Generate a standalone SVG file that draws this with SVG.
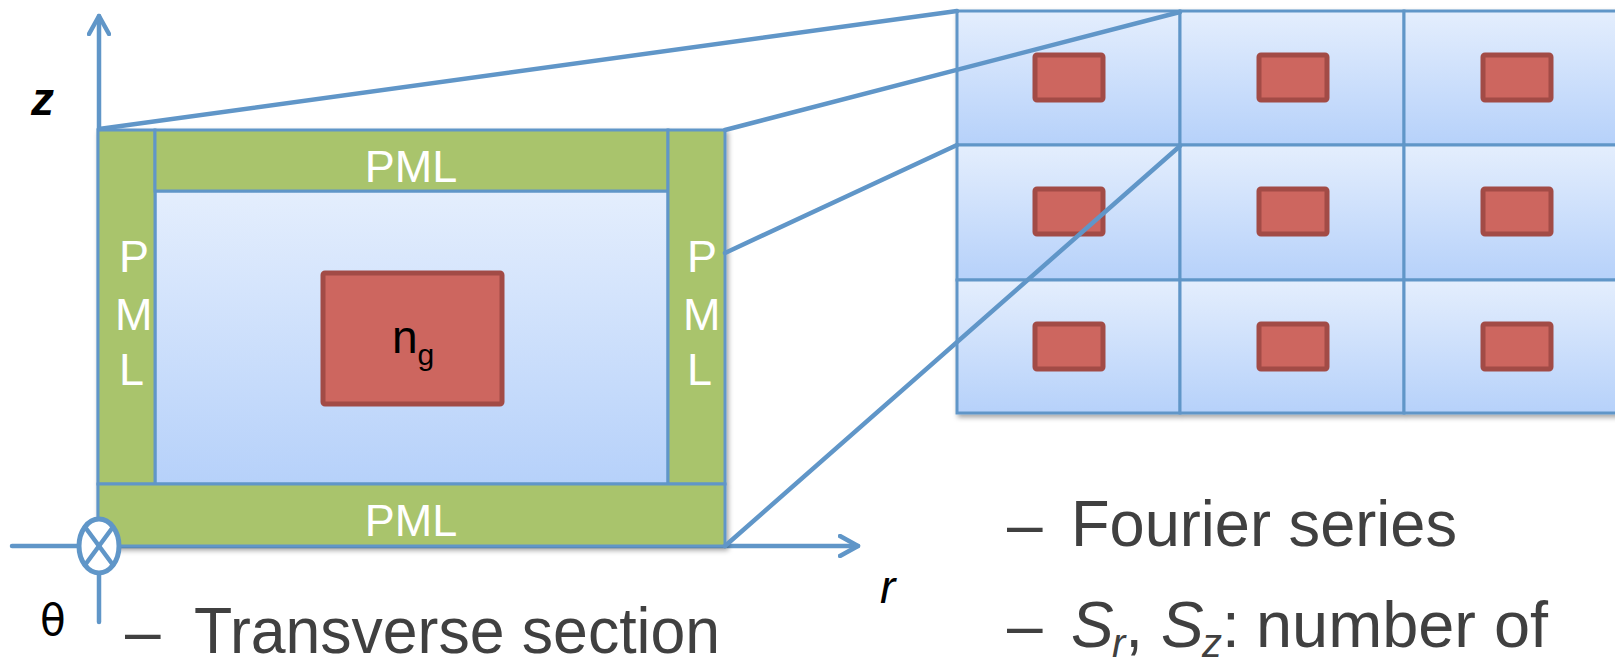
<svg xmlns="http://www.w3.org/2000/svg" width="1615" height="658" viewBox="0 0 1615 658">
<defs>
<linearGradient id="cellg" x1="0" y1="0" x2="0" y2="1">
<stop offset="0" stop-color="#e4eefd"/>
<stop offset="1" stop-color="#b6d1fa"/>
</linearGradient>
<filter id="sh" x="-5%" y="-5%" width="110%" height="115%">
<feDropShadow dx="2" dy="3" stdDeviation="2.5" flood-color="#000" flood-opacity="0.35"/>
</filter>
<marker id="arr" viewBox="0 0 24 24" refX="20" refY="12" markerWidth="24" markerHeight="24" markerUnits="userSpaceOnUse" orient="auto">
<path d="M2,2 L20,12 L2,22" fill="none" stroke="#6096c8" stroke-width="4.5" stroke-linecap="round" stroke-linejoin="round"/>
</marker>
</defs>
<style>
.ln{stroke:#6096c8;stroke-width:4.5;fill:none;stroke-linecap:round}
.pml{fill:#a9c46c;stroke:#6096c8;stroke-width:3}
.inner{fill:url(#cellg);stroke:#6096c8;stroke-width:3}
.cell{fill:url(#cellg);stroke:#6096c8;stroke-width:3}
.red{fill:#cd665f;stroke:#a24b46;stroke-width:5}
.wt{fill:#ffffff;font-family:"Liberation Sans",Arial,sans-serif;font-size:45px}
.lab{fill:#000;font-family:"Liberation Sans",Arial,sans-serif;font-size:46px;font-style:italic}
.txt{fill:#404040;font-family:"Liberation Sans",Arial,sans-serif;font-size:64px}
</style>

<g id="axes">
<line class="ln" x1="99" y1="622" x2="99" y2="16" marker-end="url(#arr)"/>
<line class="ln" x1="12" y1="546" x2="858" y2="546" marker-end="url(#arr)"/>
</g>

<g id="section" filter="url(#sh)">
<rect class="inner" x="155" y="191" width="513" height="293"/>
<rect class="pml" x="98" y="130" width="57" height="354"/>
<rect class="pml" x="155" y="130" width="513" height="61"/>
<rect class="pml" x="668" y="130" width="57" height="354"/>
<rect class="pml" x="98" y="484" width="627" height="62"/>
</g>
<g id="pml-labels">
<text class="wt" x="411" y="182" text-anchor="middle">PML</text>
<text class="wt" x="411" y="536" text-anchor="middle">PML</text>
<text class="wt" x="119" y="272">P</text>
<text class="wt" x="115" y="330">M</text>
<text class="wt" x="119" y="385">L</text>
<text class="wt" x="687" y="272">P</text>
<text class="wt" x="683" y="330">M</text>
<text class="wt" x="687" y="385">L</text>
</g>
<g id="core">
<rect class="red" x="323" y="273" width="179" height="131" rx="2"/>
<text x="392" y="353" font-family="Liberation Sans, Arial, sans-serif" font-size="46" fill="#000">n<tspan font-size="30" dy="12">g</tspan></text>
</g>

<g id="theta-symbol">
<ellipse cx="99" cy="546" rx="20" ry="27" fill="#ffffff" stroke="#6096c8" stroke-width="5"/>
<line class="ln" x1="85" y1="527" x2="113" y2="565"/>
<line class="ln" x1="113" y1="527" x2="85" y2="565"/>
</g>

<g id="axis-labels">
<text class="lab" x="31" y="115" font-weight="bold">z</text>
<text class="lab" x="880" y="603">r</text>
<text x="40" y="635" font-family="'DejaVu Sans',sans-serif" font-size="42" fill="#000">θ</text>
</g>

<g id="grid" filter="url(#sh)">
<rect class="cell" x="957" y="11" width="223" height="134"/>
<rect class="cell" x="1180" y="11" width="224" height="134"/>
<rect class="cell" x="1404" y="11" width="224" height="134"/>
<rect class="cell" x="957" y="145" width="223" height="135"/>
<rect class="cell" x="1180" y="145" width="224" height="135"/>
<rect class="cell" x="1404" y="145" width="224" height="135"/>
<rect class="cell" x="957" y="280" width="223" height="133"/>
<rect class="cell" x="1180" y="280" width="224" height="133"/>
<rect class="cell" x="1404" y="280" width="224" height="133"/>
</g>
<g id="grid-cores">
<rect class="red" x="1035" y="55" width="68" height="45" rx="2"/>
<rect class="red" x="1259" y="55" width="68" height="45" rx="2"/>
<rect class="red" x="1483" y="55" width="68" height="45" rx="2"/>
<rect class="red" x="1035" y="189" width="68" height="45" rx="2"/>
<rect class="red" x="1259" y="189" width="68" height="45" rx="2"/>
<rect class="red" x="1483" y="189" width="68" height="45" rx="2"/>
<rect class="red" x="1035" y="324" width="68" height="45" rx="2"/>
<rect class="red" x="1259" y="324" width="68" height="45" rx="2"/>
<rect class="red" x="1483" y="324" width="68" height="45" rx="2"/>
</g>

<g id="connectors">
<line class="ln" x1="99" y1="129" x2="957" y2="11"/>
<line class="ln" x1="725" y1="130" x2="1180" y2="12"/>
<line class="ln" x1="725" y1="253" x2="957" y2="145"/>
<line class="ln" x1="725" y1="546" x2="1180" y2="146"/>
</g>

<g id="bullets">
<text class="txt" x="125" y="653">–</text>
<text class="txt" x="194" y="653" textLength="526" lengthAdjust="spacingAndGlyphs">Transverse section</text>
<text class="txt" x="1007" y="546">–</text>
<text class="txt" x="1071" y="546" textLength="386" lengthAdjust="spacingAndGlyphs">Fourier series</text>
<text class="txt" x="1007" y="647">–</text>
<text class="txt" x="1071" y="647"><tspan font-style="italic">S</tspan><tspan x="1112" font-style="italic" font-size="40" dy="10">r</tspan><tspan dy="-10">,</tspan><tspan x="1161" font-style="italic">S</tspan><tspan x="1202" font-style="italic" font-size="40" dy="10">z</tspan><tspan dy="-10">:</tspan></text>
<text class="txt" x="1256" y="647" textLength="292" lengthAdjust="spacingAndGlyphs">number of</text>
</g>
</svg>
